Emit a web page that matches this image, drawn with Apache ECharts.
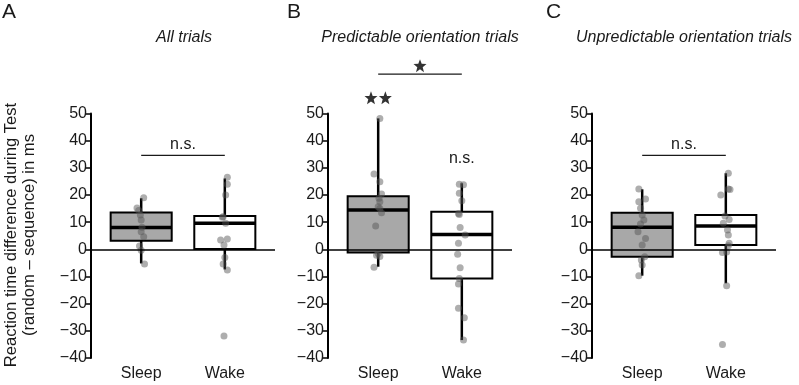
<!DOCTYPE html>
<html>
<head>
<meta charset="utf-8">
<script src="https://cdn.jsdelivr.net/npm/echarts@6/dist/echarts.min.js"></script>
<style>html,body{margin:0;padding:0;background:#fff;}#c{width:799px;height:385px;}</style>
</head>
<body>
<div id="c"></div>
<script>
// ---- data ----
const groups = ['Sleep', 'Wake'];
const panelLetters = ['A', 'B', 'C'];
const panelTitles = ['All trials', 'Predictable orientation trials', 'Unpredictable orientation trials'];
const yAxisTitle = ['Reaction time difference during Test', '(random \u2013 sequence) in ms'];
const yMin = -40, yMax = 50, yStep = 10;

// box stats: [min, q1, median, q3, max]
const boxA = [[-5.2, 3.2, 8.0, 13.6, 18.8], [-7.4, 0.1, 9.6, 12.3, 26.1]];
const boxB = [[-6.4, -1.2, 14.5, 19.5, 48.2], [-33.4, -10.7, 5.5, 13.8, 24.3]];
const boxC = [[-9.7, -2.7, 8.1, 13.5, 22.1], [-12.5, 1.6, 8.6, 12.6, 28.0]];

// individual participants
const ptsASleep = [19.0, 15.2, 14.3, 12.6, 10.8, 8.1, 6.5, 4.6, 1.2, -0.3, -5.4];
const jitASleep = [0.03, -0.05, -0.03, -0.01, 0.0, 0.01, 0.0, 0.03, -0.02, 0.0, 0.04];
const ptsAWake = [26.5, 24.0, 20.0, 12.0, 11.8, 9.6, 3.8, 3.4, 1.6, -3.0, -5.4, -7.6, -31.9];
const jitAWake = [0.03, 0.03, 0.01, -0.02, -0.03, 0.01, 0.03, -0.05, -0.01, 0.0, -0.02, 0.03, -0.01];
const ptsBSleep = [48.2, 27.7, 24.9, 20.4, 18.8, 17.5, 15.7, 15.0, 13.5, 8.6, -1.5, -2.2, -2.6, -6.6];
const jitBSleep = [0.02, -0.05, 0.02, 0.04, 0.01, 0.02, 0.0, 0.02, 0.04, -0.03, 0.0, -0.02, 0.02, -0.05];
const ptsBWake = [24.0, 23.8, 20.6, 17.9, 13.2, 12.8, 8.0, 5.3, 2.2, -1.8, -6.8, -10.7, -12.8, -21.7, -25.2, -33.4];
const jitBWake = [-0.03, 0.02, -0.03, 0.0, -0.04, -0.03, -0.02, 0.04, -0.04, -0.05, -0.02, -0.03, -0.04, -0.04, 0.03, 0.02];
const ptsCSleep = [22.2, 18.5, 17.5, 15.1, 12.6, 10.8, 9.3, 6.5, 4.0, 1.6, -2.7, -3.9, -5.8, -9.7];
const jitCSleep = [-0.04, 0.04, -0.04, -0.02, 0.0, 0.02, -0.02, -0.05, 0.04, 0.0, 0.03, -0.01, 0.0, -0.04];
const ptsCWake = [28.0, 22.2, 22.0, 20.0, 12.3, 11.0, 9.6, 7.1, 5.3, 2.2, 1.3, -1.2, -1.0, -13.4, -35.0];
const jitCWake = [0.03, 0.03, 0.05, -0.06, -0.01, 0.04, -0.03, 0.02, 0.03, 0.04, 0.03, -0.04, 0.01, 0.01, -0.04];

// significance annotations: bars [x1, x2, y], labels [x, y, text], stars [x, y]
const barsA = [[1, 2, 34.6]];
const barsB = [[1, 2, 64.5]];
const barsC = [[1, 2, 34.6]];
const labelsA = [[1.5, 38.6, 'n.s.']];
const labelsB = [[2, 33.4, 'n.s.']];
const labelsC = [[1.5, 38.6, 'n.s.']];
const starsA = [];
const starsB = [[0.914, 55.8], [1.086, 55.8], [1.5, 67.6]];
const starsC = [];

// ---- build ----
const boxes = [boxA, boxB, boxC];
const points = [[ptsASleep, ptsAWake], [ptsBSleep, ptsBWake], [ptsCSleep, ptsCWake]];
const jitters = [[jitASleep, jitAWake], [jitBSleep, jitBWake], [jitCSleep, jitCWake]];
const bars = [barsA, barsB, barsC];
const labels = [labelsA, labelsB, labelsC];
const stars = [starsA, starsB, starsC];

const FONT = "'Liberation Sans', Arial, sans-serif";
const TXT = '#1a1a1a';
const gridLefts = [91, 328, 592];
const gridW = 184, gridTop = 113.5, gridH = 244.5;
const HALF = 0.365;
const STAR = 'path://M50,0 L62.5,33 L98,34.5 L70,56.5 L79.4,92 L50,72 L20.6,92 L30,56.5 L2,34.5 L37.5,33 Z';

const grid = [], xAxis = [], yAxis = [], series = [];
for (let i = 0; i < 3; i++) {
  grid.push({left: gridLefts[i], top: gridTop, width: gridW, height: gridH, containLabel: false});
  xAxis.push({
    gridIndex: i, type: 'value', min: 0.4, max: 2.6,
    axisLine: {show: false}, axisTick: {show: false}, splitLine: {show: false},
    axisLabel: {
      customValues: [1, 2], formatter: v => groups[Math.round(v) - 1] || '',
      fontSize: 16, fontFamily: FONT, color: TXT, margin: 8
    }
  });
  yAxis.push({
    gridIndex: i, type: 'value', min: yMin, max: yMax, interval: yStep,
    axisLine: {show: true, onZero: false, lineStyle: {color: '#000', width: 2}},
    axisTick: {show: true, length: 5, lineStyle: {color: '#000', width: 1.5}},
    splitLine: {show: false},
    axisLabel: {fontSize: 16, fontFamily: FONT, color: TXT, margin: 4,
      formatter: v => String(v).replace('-', '\u2212')}
  });
  // boxes
  series.push({
    type: 'custom', xAxisIndex: i, yAxisIndex: i, z: 2,
    data: boxes[i].map((b, k) => [k + 1].concat(b)),
    encode: {x: 0, y: [1, 2, 3, 4, 5]},
    renderItem: (params, api) => {
      const x = api.value(0);
      const pMin = api.coord([x, api.value(1)]);
      const pMax = api.coord([x, api.value(5)]);
      const pTL = api.coord([x - HALF, api.value(4)]);
      const pBR = api.coord([x + HALF, api.value(2)]);
      const mL = api.coord([x - HALF, api.value(3)]);
      const mR = api.coord([x + HALF, api.value(3)]);
      const fill = params.dataIndex === 0 ? '#a8a8a8' : '#ffffff';
      return {type: 'group', children: [
        {type: 'line', shape: {x1: pMin[0], y1: pMin[1], x2: pMax[0], y2: pMax[1]}, style: {stroke: '#000', lineWidth: 2.5}},
        {type: 'rect', shape: {x: pTL[0], y: pTL[1], width: pBR[0] - pTL[0], height: pBR[1] - pTL[1]}, style: {fill: fill, stroke: '#000', lineWidth: 2}},
        {type: 'line', shape: {x1: mL[0], y1: mL[1], x2: mR[0], y2: mR[1]}, style: {stroke: '#000', lineWidth: 3.5}}
      ]};
    }
  });
  // points + zero line
  const pd = [];
  for (let g = 0; g < 2; g++) {
    points[i][g].forEach((v, j) => pd.push([g + 1 + jitters[i][g][j], v]));
  }
  series.push({
    type: 'scatter', xAxisIndex: i, yAxisIndex: i, z: 4,
    data: pd, symbolSize: 7,
    itemStyle: {color: 'rgba(85,85,85,0.6)'},
    markLine: {silent: true, symbol: ['none', 'none'], label: {show: false},
      lineStyle: {color: '#000', width: 1.5, type: 'solid'}, data: [{yAxis: 0}]}
  });
  // significance bars and labels
  series.push({
    type: 'custom', xAxisIndex: i, yAxisIndex: i, z: 5, clip: false,
    data: bars[i],
    renderItem: (params, api) => {
      const a = api.coord([api.value(0), api.value(2)]);
      const b = api.coord([api.value(1), api.value(2)]);
      return {type: 'line', shape: {x1: a[0], y1: a[1], x2: b[0], y2: b[1]}, style: {stroke: '#1a1a1a', lineWidth: 1.3}};
    }
  });
  series.push({
    type: 'custom', xAxisIndex: i, yAxisIndex: i, z: 5, clip: false,
    data: labels[i].map(l => [l[0], l[1]]),
    renderItem: (params, api) => {
      const p = api.coord([api.value(0), api.value(1)]);
      return {type: 'text', x: p[0], y: p[1], style: {text: labels[i][params.dataIndex][2], font: '16px ' + FONT, fill: TXT, align: 'center', verticalAlign: 'middle'}};
    }
  });
  series.push({
    type: 'scatter', xAxisIndex: i, yAxisIndex: i, z: 5, clip: false,
    data: stars[i], symbol: STAR, symbolSize: 13,
    itemStyle: {color: '#000'}
  });
}

const titleX = [184, 420, 684];
const letterX = [2, 287, 546];
const graphic = [];
for (let i = 0; i < 3; i++) {
  graphic.push({type: 'text', left: letterX[i], top: 2, style: {text: panelLetters[i], font: '21px ' + FONT, fill: TXT}});
  graphic.push({type: 'text', x: titleX[i], y: 38, style: {text: panelTitles[i], font: 'italic 16px ' + FONT, fill: TXT, align: 'center', verticalAlign: 'middle'}});
}
graphic.push({type: 'text', x: 20, y: 235, rotation: Math.PI / 2,
  style: {text: yAxisTitle.join('\n'), font: '16.6px ' + FONT, fill: TXT, align: 'center', verticalAlign: 'middle', lineHeight: 18}});

const chart = echarts.init(document.getElementById('c'), null, {renderer: 'canvas'});
chart.setOption({
  backgroundColor: '#fff',
  animation: false,
  grid, xAxis, yAxis, series, graphic
});
</script>
</body>
</html>
